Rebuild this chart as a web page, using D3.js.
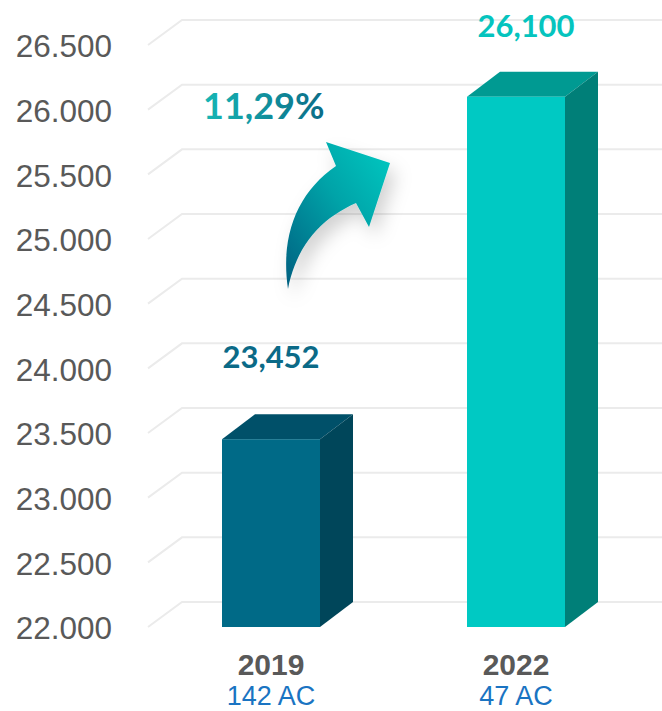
<!DOCTYPE html>
<html>
<head>
<meta charset="utf-8">
<script src="https://cdn.jsdelivr.net/npm/d3@7"></script>
<style>
  body { margin: 0; background: #fff; }
  svg { display: block; }
</style>
</head>
<body>
<div id="chart"></div>
<script>
var width = 662, height = 711;

// data
var years = ["2019", "2022"];
var aircraft = ["142 AC", "47 AC"];
var values = [23452, 26100];
var valueLabels = ["23,452", "26,100"];
var yTicks = [22000, 22500, 23000, 23500, 24000, 24500, 25000, 25500, 26000, 26500];
var changeLabel = "11,29%";

var frontColors = ["#006a87", "#00c9c3"];
var topColors = ["#005069", "#009a92"];
var sideColors = ["#00465a", "#007f78"];
var labelColors = ["#0b6a87", "#05c4be"];

var depthX = 33, depthY = -25;

var svg = d3.select("#chart")
            .append("svg")
                .attr("width", width)
                .attr("height", height);

var defs = svg.append("defs");

var arrowGrad = defs.append("linearGradient")
    .attr("id", "arrowGrad")
    .attr("x1", "0%").attr("y1", "100%")
    .attr("x2", "100%").attr("y2", "0%");
arrowGrad.append("stop").attr("offset", "0%").attr("stop-color", "#005f80");
arrowGrad.append("stop").attr("offset", "55%").attr("stop-color", "#00a3a8");
arrowGrad.append("stop").attr("offset", "100%").attr("stop-color", "#00cac2");

var textGrad = defs.append("linearGradient")
    .attr("id", "textGrad")
    .attr("x1", "0%").attr("y1", "0%")
    .attr("x2", "100%").attr("y2", "0%");
textGrad.append("stop").attr("offset", "0%").attr("stop-color", "#16b7b5");
textGrad.append("stop").attr("offset", "100%").attr("stop-color", "#0b6c87");

var shadow = defs.append("filter")
    .attr("id", "shadow")
    .attr("x", "-50%").attr("y", "-50%")
    .attr("width", "200%").attr("height", "200%");
shadow.append("feDropShadow")
    .attr("dx", 6).attr("dy", 10)
    .attr("stdDeviation", 9)
    .attr("flood-color", "#000")
    .attr("flood-opacity", 0.18);

var yScale = d3.scaleLinear()
    .domain([22000, 26500])
    .range([627, 45]);

var xScale = d3.scaleBand()
    .domain(years)
    .range([148.5, 638.5])
    .paddingInner(0.6)
    .paddingOuter(0.3);

// thousands with a dot, e.g. 26.500
var fmtDot = d3.formatLocale({decimal: ",", thousands: ".", grouping: [3], currency: ["", ""]}).format(",");

// gridlines (floor perspective)
svg.append("g")
    .selectAll("path")
    .data(yTicks)
    .enter()
    .append("path")
        .attr("d", function(d) {
            var y = yScale(d);
            return "M148," + y + "L" + (148 + 34) + "," + (y + depthY) + "L" + width + "," + (y + depthY);
        })
        .attr("fill", "none")
        .attr("stroke", "#ebebeb")
        .attr("stroke-width", 2);

// y axis
var yAxis = svg.append("g")
    .attr("transform", "translate(112,0)")
    .call(d3.axisLeft(yScale)
        .tickValues(yTicks)
        .tickSize(0)
        .tickPadding(0)
        .tickFormat(fmtDot));
yAxis.select(".domain").remove();
yAxis.selectAll("text")
    .attr("font-family", "'Liberation Sans', Arial, sans-serif")
    .attr("font-size", 31.5)
    .attr("fill", "#595959")
    .attr("dy", "0.38em");

// 3d bars
var bars = svg.append("g")
    .selectAll("g")
    .data(values)
    .enter()
    .append("g");

bars.append("path")
    .attr("d", function(d, i) {
        var x0 = xScale(years[i]), x1 = x0 + xScale.bandwidth(), y = yScale(d);
        return "M" + x0 + "," + y + "L" + (x0 + depthX) + "," + (y + depthY) +
               "L" + (x1 + depthX) + "," + (y + depthY) + "L" + x1 + "," + y + "Z";
    })
    .attr("fill", function(d, i) { return topColors[i]; });

bars.append("path")
    .attr("d", function(d, i) {
        var x1 = xScale(years[i]) + xScale.bandwidth(), y = yScale(d), y0 = yScale(22000);
        return "M" + x1 + "," + y + "L" + (x1 + depthX) + "," + (y + depthY) +
               "L" + (x1 + depthX) + "," + (y0 + depthY) + "L" + x1 + "," + y0 + "Z";
    })
    .attr("fill", function(d, i) { return sideColors[i]; });

bars.append("rect")
    .attr("x", function(d, i) { return xScale(years[i]); })
    .attr("y", function(d) { return yScale(d); })
    .attr("width", xScale.bandwidth())
    .attr("height", function(d) { return yScale(22000) - yScale(d); })
    .attr("fill", function(d, i) { return frontColors[i]; });

// value labels
var labelLift = [71, 60];
bars.append("text")
    .attr("x", function(d, i) { return xScale(years[i]) + xScale.bandwidth() / 2 + (i === 1 ? 10 : 0); })
    .attr("y", function(d, i) { return yScale(d) - labelLift[i]; })
    .attr("text-anchor", "middle")
    .attr("font-family", "Lato, 'Open Sans', sans-serif")
    .attr("font-weight", "bold")
    .attr("font-size", 31)
    .attr("fill", function(d, i) { return labelColors[i]; })
    .text(function(d, i) { return valueLabels[i]; });

// x labels
var xLabels = svg.append("g")
    .selectAll("g")
    .data(years)
    .enter()
    .append("g")
        .attr("transform", function(d) { return "translate(" + (xScale(d) + xScale.bandwidth() / 2) + ",0)"; });

xLabels.append("text")
    .attr("y", 675)
    .attr("text-anchor", "middle")
    .attr("font-family", "'Liberation Sans', Arial, sans-serif")
    .attr("font-weight", "bold")
    .attr("font-size", 30)
    .attr("fill", "#595959")
    .text(function(d) { return d; });

xLabels.append("text")
    .attr("y", 705)
    .attr("text-anchor", "middle")
    .attr("font-family", "'Liberation Sans', Arial, sans-serif")
    .attr("font-size", 27)
    .attr("fill", "#1a74c2")
    .text(function(d, i) { return aircraft[i]; });

// growth arrow
svg.append("path")
    .attr("d", "M288,289 C280,235 298,192 336,166 L326,142 L390,163 L369,227 L356,203 C322,218 297,244 288,289 Z")
    .attr("fill", "url(#arrowGrad)")
    .attr("filter", "url(#shadow)");

svg.append("text")
    .attr("x", 203)
    .attr("y", 119)
    .attr("font-family", "Lato, 'Open Sans', sans-serif")
    .attr("font-weight", "bold")
    .attr("font-size", 36)
    .attr("fill", "url(#textGrad)")
    .text(changeLabel);
</script>
</body>
</html>
